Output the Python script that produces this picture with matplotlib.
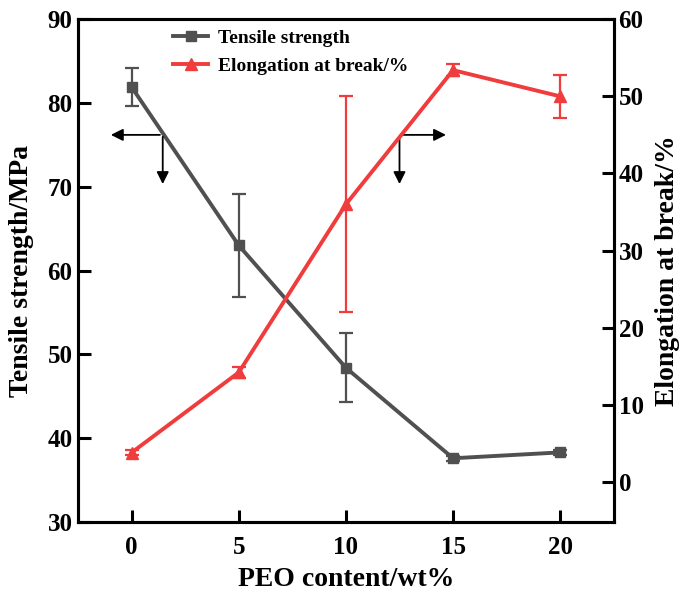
import numpy as np
import matplotlib
matplotlib.use("Agg")
import matplotlib.pyplot as plt
from matplotlib.lines import Line2D

# Datos
peo = [0, 5, 10, 15, 20]
tensile = [81.9, 63.0, 48.4, 37.6, 38.3]
tensile_err = [2.3, 6.2, 4.1, 0.3, 0.3]
elong = [3.8, 14.2, 36.0, 53.4, 50.0]
elong_err = [0.3, 0.7, 14.0, 0.8, 2.8]

gray = "#505050"
red = "#f03c3c"

plt.rcParams["font.family"] = "Liberation Serif"
plt.rcParams["font.weight"] = "bold"

fig = plt.figure(figsize=(6.85, 6.02), dpi=100)
ax = fig.add_axes([0.114, 0.133, 0.782, 0.835])
ax2 = ax.twinx()

ax.errorbar(peo, tensile, yerr=tensile_err, color=gray, marker="s", markersize=7,
            linewidth=2.8, elinewidth=1.6, capsize=5, capthick=1.6)
ax2.errorbar(peo, elong, yerr=elong_err, color=red, marker="^", markersize=8,
             linewidth=2.8, elinewidth=1.6, capsize=5, capthick=1.6)

ax.set_xlim(-2.5, 22.5)
ax.set_ylim(30, 90)
ax2.set_ylim(-5.2, 60)
ax.set_xticks(peo)
ax.set_yticks(np.arange(30, 91, 10))
ax2.set_yticks(np.arange(0, 61, 10))

for a in (ax, ax2):
    for s in a.spines.values():
        s.set_linewidth(2.2)
    a.tick_params(direction="in", length=9, width=2.2, labelsize=18)
ax.tick_params(axis="x", pad=10)
ax.tick_params(axis="y", pad=4)

ax.set_xlabel("PEO content/wt%", fontsize=20, fontweight="bold", labelpad=6)
ax.set_ylabel("Tensile strength/MPa", fontsize=20, fontweight="bold", labelpad=10)
ax2.set_ylabel("Elongation at break/%", fontsize=20, fontweight="bold", labelpad=8)

# Flechas que indican el eje de cada serie
akw = dict(arrowstyle="-|>", color="black", lw=1.3, mutation_scale=18)
ax.annotate("", xy=(-1.1, 76.2), xytext=(1.45, 76.2), arrowprops=akw)
ax.annotate("", xy=(1.45, 70.0), xytext=(1.45, 76.3), arrowprops=akw)
ax.annotate("", xy=(14.8, 76.2), xytext=(12.5, 76.2), arrowprops=akw)
ax.annotate("", xy=(12.5, 70.0), xytext=(12.5, 76.3), arrowprops=akw)

h1 = Line2D([], [], color=gray, marker="s", markersize=7, linewidth=2.8)
h2 = Line2D([], [], color=red, marker="^", markersize=8, linewidth=2.8)
ax.legend([h1, h2], ["Tensile strength", "Elongation at break/%"],
          loc="upper left", bbox_to_anchor=(0.145, 1.015), frameon=False,
          fontsize=14, handlelength=1.8, handletextpad=0.5, labelspacing=0.55)

fig.savefig("out.png", dpi=100)
